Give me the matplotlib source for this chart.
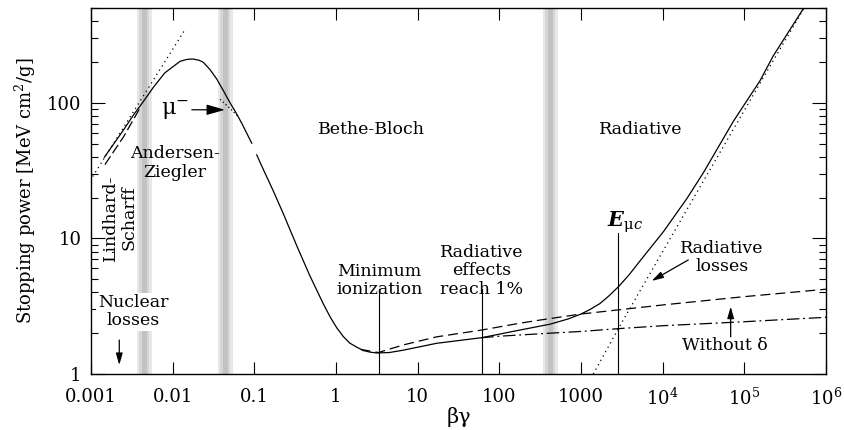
import matplotlib
matplotlib.use("Agg")
import matplotlib.pyplot as plt
from matplotlib.ticker import LogLocator, NullLocator, FixedLocator, FixedFormatter

plt.rcParams['font.family'] = ['DejaVu Serif', 'DejaVu Sans']
plt.rcParams['mathtext.fontset'] = 'dejavuserif'

# total stopping power, low-energy part (Andersen-Ziegler region)
total_lo_x = [0.00146, 0.0025, 0.0033, 0.00437, 0.0058, 0.0080, 0.0123, 0.0145, 0.0163,
              0.0179, 0.021, 0.0237, 0.0286, 0.0346, 0.0417, 0.0504, 0.060, 0.070, 0.0929]
total_lo_y = [39.7, 63, 81, 102, 130, 166, 202, 208, 210,
              210, 206, 199, 176, 150, 123, 100, 84, 70.8, 50.4]

# total stopping power, Bethe-Bloch + radiative part
total_hi_x = [0.107, 0.1296, 0.1706, 0.2265, 0.2733, 0.3435, 0.4794, 0.6997, 0.844,
              1.022, 1.228, 1.475, 1.79, 2.155, 2.61, 3.15, 4.5, 6.7, 17.1, 60.8, 179,
              417, 700, 1000, 1288, 1706, 2201, 2858, 3870, 5275, 1.02e4, 1.97e4, 3.14e4,
              7.33e4, 1.55e5, 2.26e5, 5.27e5]
total_hi_y = [41.3, 32.0, 22.4, 15.2, 11.6, 8.37, 5.29, 3.29, 2.65,
              2.19, 1.89, 1.69, 1.58, 1.49, 1.45, 1.43, 1.44, 1.50, 1.685, 1.853, 2.11,
              2.33, 2.55, 2.77, 2.99, 3.31, 3.77, 4.39, 5.38, 6.82, 11.2, 19.6, 30.4,
              73, 145, 222, 494]

# ionization without density effect (dashed)
nodelta_x = [2.0, 3.3, 6.7, 17.1, 60.8, 179, 315, 1000, 1e4, 1e5, 1e6]
nodelta_y = [1.52, 1.44, 1.64, 1.88, 2.11, 2.37, 2.50, 2.77, 3.23, 3.72, 4.22]

# ionization with density effect (dash-dot)
ion_x = [60, 100, 417, 1000, 2850, 1e4, 1e5, 1e6]
ion_y = [1.85, 1.90, 2.0, 2.06, 2.16, 2.27, 2.43, 2.62]

# radiative losses (dotted)
rad_x = [1413, 2850, 5270, 1e4, 2.87e4, 1e5, 2.26e5, 5.3e5]
rad_y = [1.0, 2.15, 4.1, 8.0, 24, 88, 205, 490]

# Lindhard-Scharff extension (dotted) and low-energy dashed
lind_x = [0.00105, 0.01416]
lind_y = [28.6, 346]
lowdash_x = [0.00148, 0.0025, 0.0040]
lowdash_y = [35, 56, 92]

# mu- (Barkas) curve
muminus_x = [0.038, 0.0504, 0.064]
muminus_y = [106, 91, 78.5]

band_centers = [0.0045, 0.044, 420]
mip_x = 3.39
rad1_x = 60.8
emuc_x = 2850

xticks = [1e-3, 1e-2, 1e-1, 1, 10, 100, 1000, 1e4, 1e5, 1e6]
xticklabels = ['0.001', '0.01', '0.1', '1', '10', '100', '1000',
               r'$10^4$', r'$10^5$', r'$10^6$']
yticks = [1, 10, 100]
yticklabels = ['1', '10', '100']

fig = plt.figure(figsize=(8.44, 4.30), dpi=100)
ax = fig.add_axes([0.1078, 0.1302, 0.8709, 0.8512])
ax.set_xscale('log')
ax.set_yscale('log')
ax.set_xlim(1e-3, 1e6)
ax.set_ylim(1, 500)

# shaded transition bands
for c in band_centers:
    for hw, col in [(0.092, '#e8e8e8'), (0.062, '#d6d6d6'), (0.03, '#c2c2c2')]:
        ax.axvspan(c * 10**-hw, c * 10**hw, color=col, lw=0, zorder=0)

lw = 0.9
ax.plot(total_lo_x, total_lo_y, color='k', lw=lw)
ax.plot(total_hi_x, total_hi_y, color='k', lw=lw)
ax.plot(nodelta_x, nodelta_y, color='k', lw=lw, dashes=(8, 4))
ax.plot(ion_x, ion_y, color='k', lw=lw, dashes=(10, 3, 1.5, 3))
ax.plot(rad_x, rad_y, color='k', lw=lw, dashes=(1, 3))
ax.plot(lind_x, lind_y, color='k', lw=lw, dashes=(1, 3))
ax.plot(lowdash_x, lowdash_y, color='k', lw=lw, dashes=(8, 3))
ax.plot(muminus_x, muminus_y, color='k', lw=lw, dashes=(1, 2))

# vertical marker lines
ax.plot([mip_x, mip_x], [1, 4.2], color='k', lw=0.8)
ax.plot([rad1_x, rad1_x], [1, 4.2], color='k', lw=0.8)
ax.plot([emuc_x, emuc_x], [1, 10.9], color='k', lw=0.8)

fs = 12.5
ls = 1.1
ax.text(2.74, 64, 'Bethe-Bloch', fontsize=fs, ha='center', va='center')
ax.text(5380, 64, 'Radiative', fontsize=fs, ha='center', va='center')
ax.text(0.0107, 36, 'Andersen-\nZiegler', fontsize=fs, ha='center', va='center',
        linespacing=ls)
ax.text(0.00226, 14.2, 'Lindhard-\nScharff', fontsize=fs, ha='center', va='center',
        rotation=90, linespacing=ls)
ax.text(0.00328, 2.88, 'Nuclear\nlosses', fontsize=fs, ha='center', va='center',
        linespacing=ls, bbox=dict(fc='white', ec='none', pad=1))
ax.text(mip_x, 4.88, 'Minimum\nionization', fontsize=fs, ha='center', va='center',
        linespacing=ls)
ax.text(rad1_x, 5.75, 'Radiative\neffects\nreach 1%', fontsize=fs, ha='center',
        va='center', linespacing=ls)
ax.text(3460, 13.1, r'$\mathbfit{E}_{\mathrm{μ}c}$', fontsize=15, ha='center', va='center')
ax.text(5.27e4, 7.24, 'Radiative\nlosses', fontsize=fs, ha='center', va='center',
        linespacing=ls)
ax.text(5.8e4, 1.62, 'Without δ', fontsize=fs, ha='center', va='center')

arrow = dict(arrowstyle='-|>,head_length=0.7,head_width=0.2', color='k', lw=0.9,
             shrinkA=0, shrinkB=0)
ax.annotate('μ$^{-}$', xy=(0.0437, 88.8), xytext=(0.0107, 88.8), fontsize=16,
            ha='center', va='center', arrowprops=arrow)
ax.annotate('', xy=(0.00222, 1.165), xytext=(0.00222, 1.78), arrowprops=arrow)
ax.annotate('', xy=(7330, 4.86), xytext=(2.06e4, 6.94), arrowprops=arrow)
ax.annotate('', xy=(6.8e4, 3.14), xytext=(6.8e4, 1.88), arrowprops=arrow)

ax.xaxis.set_major_locator(FixedLocator(xticks))
ax.xaxis.set_major_formatter(FixedFormatter(xticklabels))
ax.xaxis.set_minor_locator(NullLocator())
ax.yaxis.set_major_locator(FixedLocator(yticks))
ax.yaxis.set_major_formatter(FixedFormatter(yticklabels))
ax.yaxis.set_minor_locator(LogLocator(base=10, subs=range(2, 10)))

ax.tick_params(axis='x', which='major', direction='in', length=8.5, width=0.8,
               top=True, labelsize=13, pad=10)
ax.tick_params(axis='y', which='major', direction='in', length=10, width=0.8,
               right=True, labelsize=13, pad=7)
ax.tick_params(axis='y', which='minor', direction='in', length=5, width=0.8, right=True)
for s in ax.spines.values():
    s.set_linewidth(1.0)

ax.set_xlabel('βγ', fontsize=15, va='center')
ax.xaxis.set_label_coords(0.5, -0.117)
ax.set_ylabel(r'Stopping power [MeV cm$^2$/g]', fontsize=13, labelpad=6)

fig.savefig('out.png', dpi=100)
